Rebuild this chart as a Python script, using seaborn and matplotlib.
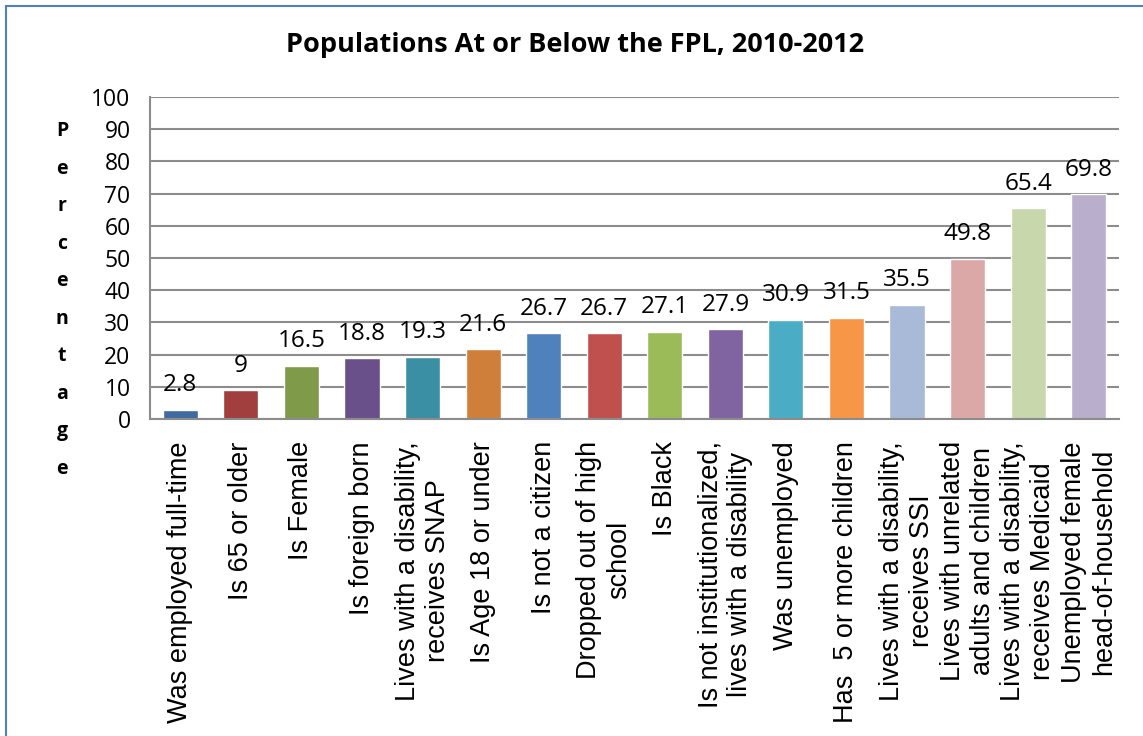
import numpy as np
import pandas as pd
import seaborn as sns
import matplotlib.pyplot as plt
from matplotlib.patches import Rectangle

categories = [
    "Was employed full-time",
    "Is 65 or older",
    "Is Female",
    "Is foreign born",
    "Lives with a disability,\nreceives SNAP",
    "Is Age 18 or under",
    "Is not a citizen",
    "Dropped out of high\nschool",
    "Is Black",
    "Is not institutionalized,\nlives with a disability",
    "Was unemployed",
    "Has  5 or more children",
    "Lives with a disability,\nreceives SSI",
    "Lives with unrelated\nadults and children",
    "Lives with a disability,\nreceives Medicaid",
    "Unemployed female\nhead-of-household",
]
values = [2.8, 9, 16.5, 18.8, 19.3, 21.6, 26.7, 26.7, 27.1, 27.9, 30.9, 31.5, 35.5, 49.8, 65.4, 69.8]
value_labels = ["2.8", "9", "16.5", "18.8", "19.3", "21.6", "26.7", "26.7", "27.1", "27.9",
                "30.9", "31.5", "35.5", "49.8", "65.4", "69.8"]
colors = ["#3F6B9F", "#A13F3E", "#7F9A48", "#69508A", "#3A8FA5", "#D07F3A",
          "#4F81BD", "#C0504D", "#9BBB59", "#8064A2", "#4BACC6", "#F79646",
          "#A9B9D8", "#DBA8A7", "#C8D7AC", "#B9AECB"]
title = "Populations At or Below the FPL, 2010-2012"
ylabel = "Percentage"
yticks = [0, 10, 20, 30, 40, 50, 60, 70, 80, 90, 100]

df = pd.DataFrame({"cat": categories, "val": values})

sns.set_style("white", {"text.color": "black", "xtick.color": "black", "ytick.color": "black"})
plt.rcParams['font.family'] = ['Liberation Sans', 'DejaVu Sans']
num_font = ['Open Sans', 'DejaVu Sans']

fig = plt.figure(figsize=(11.43, 7.36), dpi=100)
ax = fig.add_axes([150/1143, 1-419/736, (1119-150)/1143, (419-97)/736])

sns.barplot(data=df, x="cat", y="val", hue="cat", palette=colors, legend=False,
            width=0.58, saturation=1, ax=ax)

ax.set_ylim(0, 100)
ax.set_xlim(-0.5, len(categories) - 0.5)
ax.set_yticks(yticks)
ax.set_yticklabels([str(t) for t in yticks], fontsize=16.5, family=num_font, color='black')
ax.grid(axis='y', color='#8C8C8C', linewidth=1.5)
ax.set_axisbelow(True)
for s in ['top', 'right']:
    ax.spines[s].set_visible(False)
for s in ['left', 'bottom']:
    ax.spines[s].set_color('#8C8C8C')
    ax.spines[s].set_linewidth(1.5)
ax.tick_params(axis='y', which='major', direction='out', length=8, width=1.5, color='#8C8C8C', pad=6)

# ticks between the categories
ax.set_xticks(np.arange(-0.5, len(categories), 1), minor=True)
ax.tick_params(axis='x', which='minor', direction='out', length=8, width=1.5, color='#8C8C8C')
ax.set_xticks(np.arange(len(categories)))
ax.set_xticklabels(categories, rotation=90, fontsize=19.5, ha='center', va='top',
                   multialignment='center', linespacing=1.2, color='black')
ax.tick_params(axis='x', which='major', length=0, pad=16)
ax.set_xlabel("")
ax.set_ylabel("")

for i, c in enumerate(ax.containers):
    ax.bar_label(c, labels=[value_labels[i]], padding=9, fontsize=17.5, family=num_font,
                 color='black')

fig.text(0.503, 1-45/736, title, ha='center', va='center', fontsize=19.5, fontweight='bold',
         family=num_font, color='black')
fig.text(62/1143, 1-300/736, "\n".join(ylabel), ha='center', va='center', fontsize=14,
         fontweight='bold', linespacing=2.17, family=num_font, color='black')

fig.patches.append(Rectangle((6/1143, -0.1), 1.2, 1 - 6/736 + 0.1, transform=fig.transFigure,
                             fill=False, edgecolor='#4F81BD', linewidth=1.5))

fig.savefig("out.png", dpi=100)
